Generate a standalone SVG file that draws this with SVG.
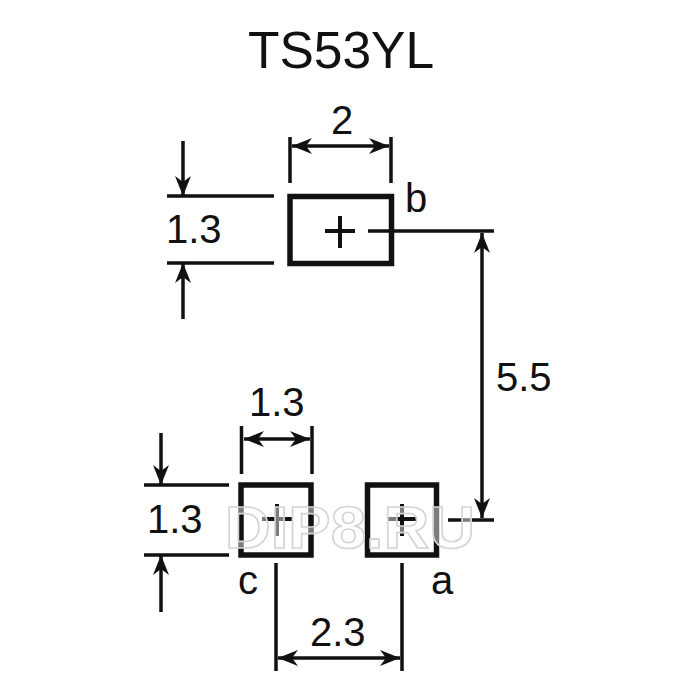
<svg xmlns="http://www.w3.org/2000/svg" width="700" height="700" viewBox="0 0 700 700">
<style>
.pad{fill:none;stroke:#111;stroke-width:5.500}
.ln{fill:none;stroke:#111;stroke-width:3.500}
.pl{fill:none;stroke:#111;stroke-width:4}
.dim{fill:none;stroke:#111;stroke-width:3.500;marker-end:url(#ah)}
.dbl{fill:none;stroke:#111;stroke-width:3.500;marker-start:url(#as);marker-end:url(#ah)}
.t{font-family:"Liberation Sans",Arial,sans-serif;font-size:40px;fill:#111}
.title{font-size:51.500px}
.wm{font-family:"Liberation Sans",Arial,sans-serif;font-size:60px;font-weight:bold;fill:#fff;fill-opacity:.45;stroke:#d4d4d4;stroke-width:1.600}
</style>
<defs>
<marker id="ah" markerUnits="userSpaceOnUse" markerWidth="24" markerHeight="20" refX="20" refY="9" orient="auto"><path d="M20 9 L0 1 L6 9 L0 17Z" fill="#111"/></marker>
<marker id="as" markerUnits="userSpaceOnUse" markerWidth="24" markerHeight="20" refX="0" refY="9" orient="auto"><path d="M0 9 L20 1 L14 9 L20 17Z" fill="#111"/></marker>
</defs>
<rect width="700" height="700" fill="#fff"/>
<text class="t title" x="248" y="68">TS53YL</text>
<g id="connectors">
<path class="ln" d="M290 137V183M391 137V183M167 196H274M167 263H274M368 231H494"/>
<path class="dbl" d="M292 146H389"/>
<path class="dim" d="M183 141V196"/>
<path class="dim" d="M183 319V263"/>
<path class="dbl" d="M482 233V518"/>
<path class="ln" d="M241.500 426V474M312 426V474M144 485H229M144 555H229M448 520H494M276 563V671M402 563V671"/>
<path class="dbl" d="M244 439H310"/>
<path class="dim" d="M161 433V485"/>
<path class="dim" d="M161 612V555"/>
<path class="dbl" d="M278 658H400"/>
</g>
<g id="pad-b">
<rect class="pad" x="290" y="196.500" width="101.500" height="67"/>
<path class="pl" d="M325 231H355M340 216V248"/>
<text class="t" x="405" y="212">b</text>
</g>
<g id="pad-c">
<rect class="pad" x="241" y="485" width="70" height="70"/>
<path class="pl" d="M262 519H292M277 504V536"/>
<text class="t" x="238" y="594">c</text>
</g>
<g id="pad-a">
<rect class="pad" x="367.500" y="485" width="69" height="70"/>
<path class="pl" d="M387 519H417M402 504V536"/>
<text class="t" x="431" y="594">a</text>
</g>
<g id="labels">
<text class="t" x="331" y="134">2</text>
<text class="t" x="166" y="243">1.3</text>
<text class="t" x="249" y="416">1.3</text>
<text class="t" x="147" y="533">1.3</text>
<text class="t" x="496" y="391">5.5</text>
<text class="t" x="310" y="646">2.3</text>
</g>
<text class="wm" x="225" y="548" textLength="250" lengthAdjust="spacingAndGlyphs">DIP8.RU</text>
</svg>
